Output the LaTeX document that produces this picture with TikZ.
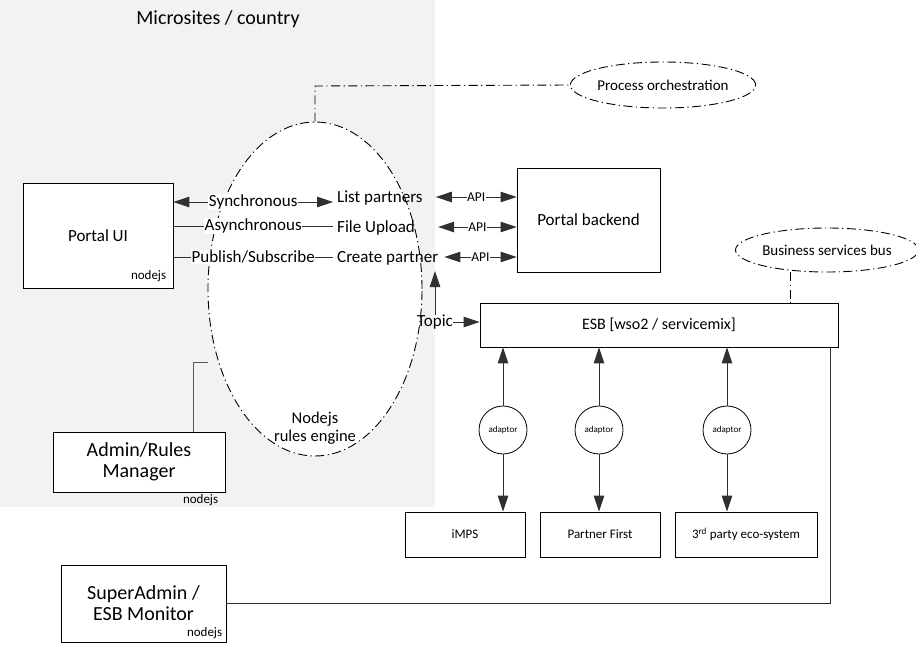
\documentclass[tikz,border=0pt]{standalone}
\usepackage{fontspec}
\setmainfont{Carlito}
\usetikzlibrary{arrows.meta,shapes.geometric,positioning,calc}
\definecolor{bggray}{HTML}{F2F2F2}
\definecolor{linegray}{HTML}{303030}
\tikzset{
  dd/.style={dash pattern=on 9pt off 3.5pt on 1.2pt off 3.5pt, line width=0.9pt},
  boxn/.style={draw=black, line width=0.8pt, fill=white, align=center, inner sep=0pt},
  conn/.style={draw=linegray, line width=0.9pt},
  tip/.style={-{Triangle[length=16pt,width=10.5pt]}},
  bothtip/.style={{Triangle[length=16pt,width=10.5pt]}-{Triangle[length=16pt,width=10.5pt]}},
  lbl/.style={fill=white, inner sep=0.5pt, font=\fontsize{17}{19}\selectfont},
  apil/.style={fill=white, inner sep=0.5pt, font=\fontsize{13.5}{15}\selectfont},
  txt/.style={inner sep=0pt, font=\fontsize{17}{19}\selectfont},
  small/.style={inner sep=0pt, font=\fontsize{13}{15}\selectfont},
  adapt/.style={circle, draw=black, line width=0.8pt, fill=white, minimum size=48pt, inner sep=0pt, font=\fontsize{9}{10}\selectfont},
}
\begin{document}
\begin{tikzpicture}[x=1pt,y=-1pt]
\useasboundingbox (0,0) rectangle (916,646);
\fill[bggray] (0,0) rectangle (435,507);
\node[font=\fontsize{20}{22}\selectfont] (title) at (218,19) {Microsites / country};

% rules engine ellipse
\node[ellipse, draw=black, dd, fill=white, minimum width=214pt, minimum height=334pt, inner sep=0pt] (eng) at (315,289) {};
\node[font=\fontsize{16.5}{18}\selectfont, align=center, inner sep=0pt] (engt) at (315,428) {Nodejs\\[0pt]rules engine};

% process orchestration
\node[ellipse, draw=black, dd, fill=white, minimum width=174pt, minimum height=46pt, inner sep=0pt, font=\fontsize{15}{17}\selectfont] (po) at (663,85) {Process orchestration};
\coordinate (pocorner) at (315,86);
\draw[dd] (eng.north) -- (pocorner) -- (po.west);

% Portal UI
\node[boxn, minimum width=150pt, minimum height=105pt, font=\fontsize{17}{19}\selectfont] (pui) at (98,235.5) {Portal UI};
\node[small, anchor=south east] (puin) at ([xshift=-7pt,yshift=6pt]pui.south east) {nodejs};

% endpoint texts
\node[txt, anchor=west] (lp) at (337,198) {List partners};
\node[txt, anchor=west] (fu) at (337,228) {File Upload};
\node[txt, anchor=west] (cp) at (337,258) {Create partner};

\draw[conn, bothtip] (pui.east |- 0,202) -- node[lbl]{Synchronous} ([xshift=-4pt]lp.west |- 0,202);
\draw[conn] (pui.east |- 0,226) -- node[lbl]{Asynchronous} ([xshift=-4pt]fu.west |- 0,226);
\draw[conn] (pui.east |- 0,257) -- node[lbl]{Publish/Subscribe} ([xshift=-4pt]cp.west |- 0,257);

% Portal backend
\node[boxn, minimum width=143pt, minimum height=104pt, font=\fontsize{17}{19}\selectfont] (pb) at (588.5,220) {Portal backend};
\draw[conn, bothtip] ([xshift=13pt]lp.east |- 0,197) -- node[apil]{API} (pb.west |- 0,197);
\draw[conn, bothtip] ([xshift=23pt]fu.east |- 0,227) -- node[apil]{API} (pb.west |- 0,227);
\draw[conn, bothtip] ([xshift=6pt]cp.east |- 0,257) -- node[apil]{API} (pb.west |- 0,257);

% ESB
\node[boxn, minimum width=358pt, minimum height=44pt, font=\fontsize{16}{18}\selectfont] (esb) at (659,325) {ESB [wso2 / servicemix]};
\node[inner sep=0pt, font=\fontsize{17}{19}\selectfont] (topic) at (435,322) {Topic};
\draw[conn, tip] (topic.north) -- ([yshift=-6pt]topic.north |- cp.south);
\draw[conn, tip] (topic.east) -- (esb.west |- topic.east);

% Business services bus
\node[ellipse, draw=black, dd, fill=white, minimum width=172pt, minimum height=44pt, inner sep=0pt, font=\fontsize{15}{17}\selectfont] (bsb) at (827,250) {Business services bus};
\draw[dd] (bsb.south -| 790,0) -- (esb.north -| 790,0);

% adaptors and systems
\node[adapt] (a1) at (503,430) {adaptor};
\node[adapt] (a2) at (599,430) {adaptor};
\node[adapt] (a3) at (727,430) {adaptor};
\node[boxn, minimum width=120pt, minimum height=45pt, font=\fontsize{13}{15}\selectfont] (imps) at (465,534.5) {iMPS};
\node[boxn, minimum width=120pt, minimum height=45pt, font=\fontsize{13}{15}\selectfont] (pf) at (600,534.5) {Partner First};
\node[boxn, minimum width=142pt, minimum height=45pt, font=\fontsize{13}{15}\selectfont] (tp) at (746,534.5) {3\textsuperscript{rd} party eco-system};
\foreach \a/\b in {a1/imps, a2/pf, a3/tp}{
  \draw[conn, tip] (\a.north) -- (\a.north |- esb.south);
  \draw[conn, tip] (\a.south) -- (\a.south |- \b.north);
}

% Admin/Rules Manager
\node[boxn, minimum width=172pt, minimum height=60pt, font=\fontsize{20}{22}\selectfont] (arm) at (139,462) {Admin/Rules\\[-1pt]Manager};
\node[small, anchor=north east] (armn) at ([xshift=-7pt,yshift=-2pt]arm.south east) {nodejs};
\coordinate (armc) at (193,362);
\draw[conn, draw=gray!70!black] (arm.north -| 193,0) -- (armc) -- (eng.west |- armc);

% SuperAdmin
\node[boxn, minimum width=165pt, minimum height=77pt, font=\fontsize{20}{22}\selectfont] (sa) at (143.5,603.5) {SuperAdmin /\\[-1pt]ESB Monitor};
\node[small, anchor=south east] (san) at ([xshift=-4pt,yshift=3pt]sa.south east) {nodejs};
\coordinate (sac) at (830,603);
\draw[conn] (esb.south -| 830,0) -- (sac) -- (sa.east |- sac);
\end{tikzpicture}
\end{document}
